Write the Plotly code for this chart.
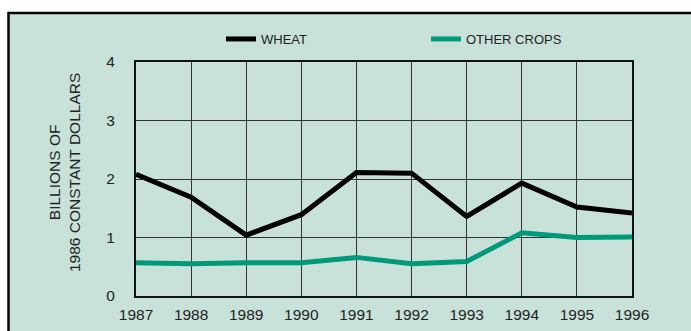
import plotly.graph_objects as go

# Crop values, billions of 1986 constant dollars
years = [1987, 1988, 1989, 1990, 1991, 1992, 1993, 1994, 1995, 1996]
wheat = [2.08, 1.69, 1.04, 1.39, 2.11, 2.10, 1.36, 1.93, 1.52, 1.42]
other_crops = [0.57, 0.55, 0.57, 0.57, 0.66, 0.55, 0.59, 1.08, 1.00, 1.01]
y_ticks = [0, 1, 2, 3, 4]

W, H = 691, 331
PANEL = "#C8E2DA"
GREEN = "#00997A"
TEXT = "#222222"
FONT = "Liberation Sans, Arial, sans-serif"

# plot-area geometry in pixels
ml, mr, mt, mb = 136, 59, 62, 35
pw, ph = W - ml - mr, H - mt - mb

def px_to_paper_x(px):
    return (px - ml) / pw

def py_to_paper_y(py):
    return (H - mb - py) / ph

fig = go.Figure()
fig.add_trace(go.Scatter(x=years, y=wheat, mode="lines", name="WHEAT",
                         line=dict(color="#000000", width=5)))
fig.add_trace(go.Scatter(x=years, y=other_crops, mode="lines", name="OTHER CROPS",
                         line=dict(color=GREEN, width=5)))

# tinted panel with a black frame on its top and left sides
fig.add_shape(type="rect", xref="paper", yref="paper", layer="below",
              x0=px_to_paper_x(8.5), x1=px_to_paper_x(W + 20),
              y0=py_to_paper_y(H + 20), y1=py_to_paper_y(13),
              fillcolor=PANEL, line=dict(color="#000000", width=2.5))

# two-line axis title, rotated
fig.add_annotation(text="BILLIONS OF<br>1986 CONSTANT DOLLARS",
                   xref="paper", yref="paper",
                   x=px_to_paper_x(64), y=py_to_paper_y(173),
                   xanchor="center", yanchor="middle", textangle=-90,
                   showarrow=False, font=dict(size=15.5, color=TEXT))

fig.update_layout(
    width=W, height=H,
    margin=dict(l=ml, r=mr, t=mt, b=mb, pad=0, autoexpand=False),
    paper_bgcolor="#FFFFFF",
    plot_bgcolor="rgba(0,0,0,0)",
    font=dict(family=FONT, color=TEXT, size=15),
    showlegend=True,
    legend=dict(orientation="h", x=px_to_paper_x(221), y=py_to_paper_y(39),
                xanchor="left", yanchor="middle",
                font=dict(size=13, color=TEXT),
                itemwidth=30,
                entrywidth=160, entrywidthmode="pixels",
                bgcolor="rgba(0,0,0,0)"),
    xaxis=dict(range=[1987, 1996], tickmode="array", tickvals=years,
               ticktext=[str(y) for y in years], automargin=False,
               showgrid=True, gridcolor="#333333", gridwidth=1.2,
               showline=True, linecolor="#111111", linewidth=2, mirror=True,
               ticks="outside", ticklen=3, tickcolor="rgba(0,0,0,0)",
               zeroline=False, tickfont=dict(size=15.5, color=TEXT)),
    yaxis=dict(range=[0, 4], tickmode="array", tickvals=y_ticks,
               automargin=False,
               showgrid=True, gridcolor="#333333", gridwidth=1.2,
               showline=True, linecolor="#111111", linewidth=2, mirror=True,
               ticks="outside", ticklen=16, tickcolor="rgba(0,0,0,0)",
               zeroline=False, tickfont=dict(size=15.5, color=TEXT)),
)

fig.write_html("out.html")
